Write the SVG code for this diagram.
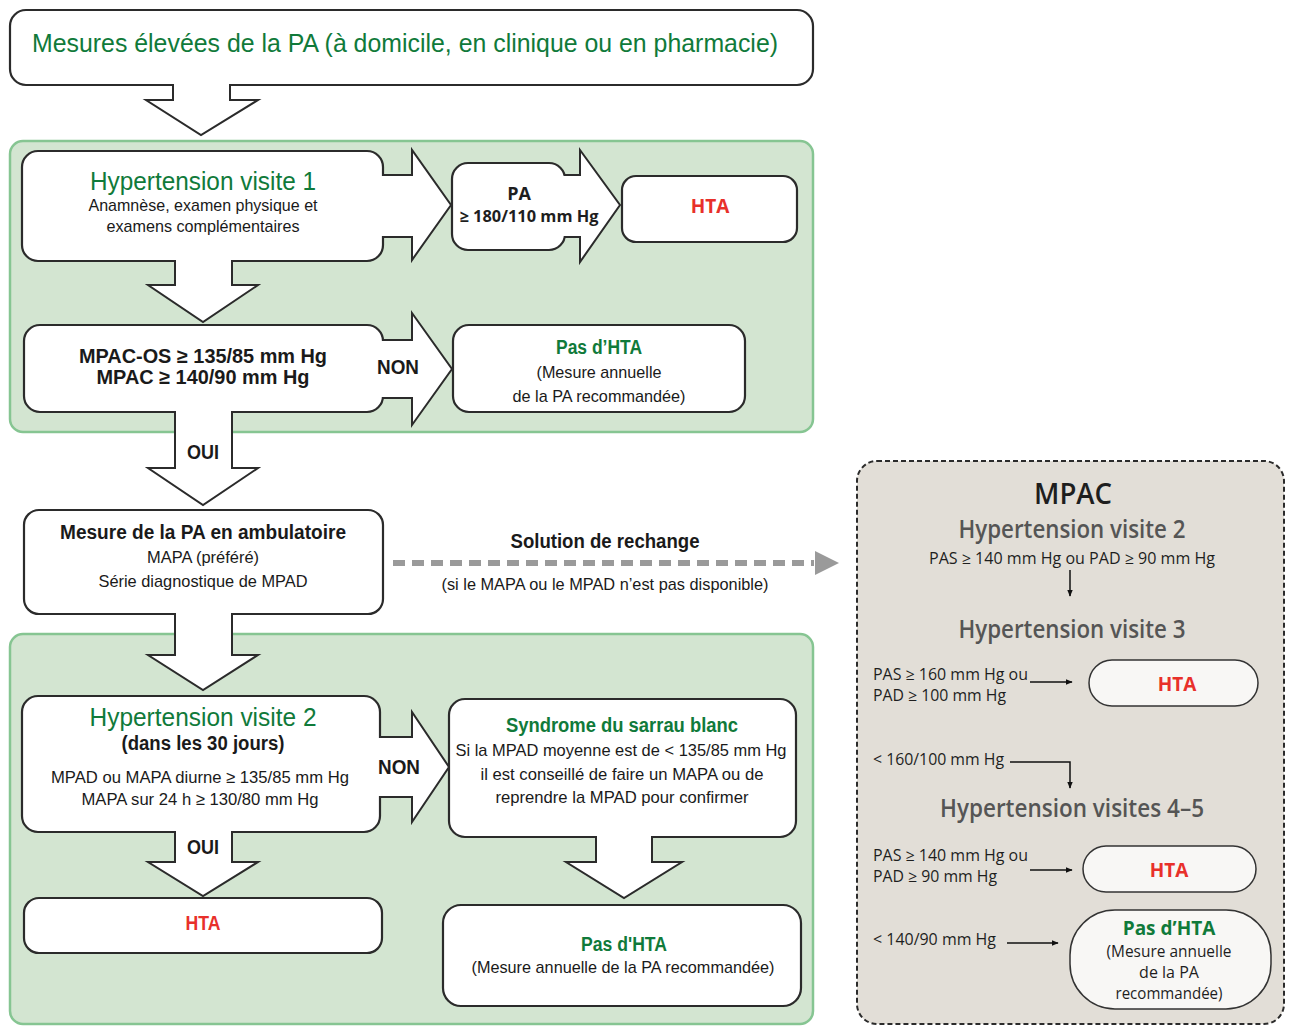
<svg xmlns="http://www.w3.org/2000/svg" width="1293" height="1026" viewBox="0 0 1293 1026">
<defs>
<style>
.bg{fill:#ffffff}
.panel{fill:#d3e5d1;stroke:#86c592;stroke-width:2.5}
.box{fill:#fff;stroke:#2b2b2b;stroke-width:2.2}
.arr{fill:#fff;stroke:#2b2b2b;stroke-width:2;stroke-linejoin:miter}
.cover{fill:#fff;stroke:none}
.t{font-family:"Liberation Sans Narrow","Liberation Sans",Arial,sans-serif;text-anchor:middle;fill:#1a1a1a}
.rp{font-family:"Open Sans","Noto Sans","Liberation Sans",sans-serif;fill:#1e1e1e}
.g{fill:#107a3a}
.r{fill:#e8302a;font-weight:bold}
.b{font-weight:bold}
.h{font-size:26px}
.s{font-size:17px}
.m{font-size:20px}
.gh{fill:#555;font-size:25px;text-anchor:middle;font-weight:600}
.sm{font-size:16px}
.pill{fill:#f8f7f5;stroke:#333;stroke-width:1.5}
.ln{fill:none;stroke:#111;stroke-width:1.5}
</style>
<marker id="ah" viewBox="0 0 10 10" refX="9" refY="5" markerWidth="7" markerHeight="7" orient="auto" markerUnits="userSpaceOnUse">
<path d="M0,1 L10,5 L0,9 Z" fill="#111"/>
</marker>
</defs>
<rect class="bg" x="0" y="0" width="1293" height="1026"/>

<g id="panel1"><rect class="panel" x="10" y="141" width="803" height="291" rx="13"/></g>
<g id="panel2"><rect class="panel" x="10" y="634" width="803" height="390" rx="13"/></g>
<g id="panel-mpac"><rect x="857" y="461" width="427" height="563" rx="20" fill="#e2ded7" stroke="#2b2b2b" stroke-width="2" stroke-dasharray="5 3"/></g>

<g id="connectors">
<path class="arr" d="M173,84 V100 H146 L201,135 L258,100 H230 V84"/>
<path class="arr" d="M175,260 V285 H148 L203,322 L258,285 H232 V260"/>
<path class="arr" d="M175,411 V468 H148 L203,505 L258,468 H232 V411"/>
<path class="arr" d="M175,613 V655 H148 L203,690 L258,655 H232 V613"/>
<path class="arr" d="M175,831 V862 H148 L203,896 L258,862 H232 V831"/>
<path class="arr" d="M596,836 V862 H566 L624,898 L682,862 H652 V836"/>
<path class="arr" d="M382,175 H412 V150 L451,205 L412,260 V237 H382"/>
<path class="arr" d="M564,175 H580 V150 L620,205 L580,262 V237 H564"/>
<path class="arr" d="M382,340 H412 V313 L452,369 L412,425 V398 H382"/>
<path class="arr" d="M379,737 H412 V712 L449,767 L412,822 V797 H379"/>
<line x1="393" y1="563" x2="814" y2="563" stroke="#9a9a9a" stroke-width="6" stroke-dasharray="12 7"/>
<path d="M815,551 L839,563 L815,575 Z" fill="#9a9a9a"/>
<line class="ln" x1="1070" y1="570" x2="1070" y2="596" marker-end="url(#ah)"/>
<line class="ln" x1="1030" y1="682" x2="1072" y2="682" marker-end="url(#ah)"/>
<path class="ln" d="M1010,762 H1070 V788" marker-end="url(#ah)"/>
<line class="ln" x1="1030" y1="870" x2="1072" y2="870" marker-end="url(#ah)"/>
<line class="ln" x1="1007" y1="943" x2="1058" y2="943" marker-end="url(#ah)"/>
</g>

<g id="n-top">
<rect class="box" x="10" y="10" width="803" height="75" rx="16"/>
<rect class="cover" x="174" y="80" width="55" height="8"/>
<text class="t g h" x="405" y="52" textLength="746" lengthAdjust="spacingAndGlyphs">Mesures élevées de la PA (à domicile, en clinique ou en pharmacie)</text>
</g>

<g id="n-visite1">
<rect class="box" x="22" y="151" width="361" height="110" rx="16"/>
<rect class="cover" x="176" y="256" width="55" height="8"/>
<rect class="cover" x="378" y="176" width="8" height="60"/>
<text class="t g h" x="203" y="190" textLength="226" lengthAdjust="spacingAndGlyphs">Hypertension visite 1</text>
<text class="t s" x="203" y="211" textLength="229" lengthAdjust="spacingAndGlyphs">Anamnèse, examen physique et</text>
<text class="t s" x="203" y="232" textLength="193" lengthAdjust="spacingAndGlyphs">examens complémentaires</text>
</g>

<g id="n-pa">
<rect class="box" x="452" y="163" width="113" height="87" rx="16"/>
<rect class="cover" x="560" y="176" width="8" height="60"/>
<text class="rp b" x="519" y="200" font-size="18" text-anchor="middle">PA</text>
<text class="rp b" x="529" y="222" font-size="16" text-anchor="middle" textLength="139" lengthAdjust="spacingAndGlyphs">≥ 180/110 mm Hg</text>
</g>

<g id="n-hta1">
<rect class="box" x="622" y="176" width="175" height="66" rx="14"/>
<text class="rp b" x="710" y="213" font-size="19" text-anchor="middle" style="fill:#e8302a">HTA</text>
</g>

<g id="n-mpac">
<rect class="box" x="24" y="325" width="359" height="87" rx="16"/>
<rect class="cover" x="176" y="407" width="55" height="8"/>
<rect class="cover" x="378" y="341" width="8" height="56"/>
<text class="t b m" x="203" y="363" textLength="248" lengthAdjust="spacingAndGlyphs">MPAC-OS ≥ 135/85 mm Hg</text>
<text class="t b m" x="203" y="384" textLength="213" lengthAdjust="spacingAndGlyphs">MPAC ≥ 140/90 mm Hg</text>
</g>
<g id="l-non1"><text class="t b m" x="398" y="374" textLength="42" lengthAdjust="spacingAndGlyphs">NON</text></g>

<g id="n-pas1">
<rect class="box" x="453" y="325" width="292" height="87" rx="16"/>
<text class="t g b m" x="599" y="354" textLength="86" lengthAdjust="spacingAndGlyphs">Pas d’HTA</text>
<text class="t s" x="599" y="378" textLength="125" lengthAdjust="spacingAndGlyphs">(Mesure annuelle</text>
<text class="t s" x="599" y="402" textLength="173" lengthAdjust="spacingAndGlyphs">de la PA recommandée)</text>
</g>

<g id="l-oui1"><text class="t b m" x="203" y="459" textLength="32" lengthAdjust="spacingAndGlyphs">OUI</text></g>

<g id="n-ambu">
<rect class="box" x="24" y="510" width="359" height="104" rx="15"/>
<rect class="cover" x="176" y="609" width="55" height="8"/>
<text class="t b m" x="203" y="539" textLength="286" lengthAdjust="spacingAndGlyphs">Mesure de la PA en ambulatoire</text>
<text class="t s" x="203" y="563" textLength="112" lengthAdjust="spacingAndGlyphs">MAPA (préféré)</text>
<text class="t s" x="203" y="587" textLength="209" lengthAdjust="spacingAndGlyphs">Série diagnostique de MPAD</text>
</g>

<g id="l-solution">
<text class="t b m" x="605" y="548" textLength="189" lengthAdjust="spacingAndGlyphs">Solution de rechange</text>
<text class="t s" x="605" y="590" textLength="327" lengthAdjust="spacingAndGlyphs">(si le MAPA ou le MPAD n’est pas disponible)</text>
</g>

<g id="n-visite2">
<rect class="box" x="22" y="696" width="358" height="136" rx="16"/>
<rect class="cover" x="176" y="827" width="55" height="8"/>
<rect class="cover" x="375" y="738" width="8" height="58"/>
<text class="t g h" x="203" y="726" textLength="227" lengthAdjust="spacingAndGlyphs">Hypertension visite 2</text>
<text class="t b m" x="203" y="750" textLength="163" lengthAdjust="spacingAndGlyphs">(dans les 30 jours)</text>
<text class="t s" x="200" y="783" textLength="298" lengthAdjust="spacingAndGlyphs">MPAD ou MAPA diurne ≥ 135/85 mm Hg</text>
<text class="t s" x="200" y="805" textLength="237" lengthAdjust="spacingAndGlyphs">MAPA sur 24 h ≥ 130/80 mm Hg</text>
</g>
<g id="l-non2"><text class="t b m" x="399" y="774" textLength="42" lengthAdjust="spacingAndGlyphs">NON</text></g>

<g id="n-syndrome">
<rect class="box" x="449" y="699" width="347" height="138" rx="16"/>
<rect class="cover" x="597" y="832" width="54" height="8"/>
<text class="t g b m" x="622" y="732" textLength="232" lengthAdjust="spacingAndGlyphs">Syndrome du sarrau blanc</text>
<text class="t s" x="621" y="756" textLength="331" lengthAdjust="spacingAndGlyphs">Si la MPAD moyenne est de &lt; 135/85 mm Hg</text>
<text class="t s" x="622" y="780" textLength="283" lengthAdjust="spacingAndGlyphs">il est conseillé de faire un MAPA ou de</text>
<text class="t s" x="622" y="803" textLength="253" lengthAdjust="spacingAndGlyphs">reprendre la MPAD pour confirmer</text>
</g>

<g id="l-oui2"><text class="t b m" x="203" y="854" textLength="32" lengthAdjust="spacingAndGlyphs">OUI</text></g>

<g id="n-hta2">
<rect class="box" x="24" y="898" width="358" height="55" rx="15"/>
<text class="t r m" x="203" y="930" textLength="35" lengthAdjust="spacingAndGlyphs">HTA</text>
</g>

<g id="n-pas2">
<rect class="box" x="443" y="905" width="358" height="101" rx="18" stroke-width="2.8"/>
<text class="t g b m" x="624" y="951" textLength="86" lengthAdjust="spacingAndGlyphs">Pas d'HTA</text>
<text class="t s" x="623" y="973" textLength="303" lengthAdjust="spacingAndGlyphs">(Mesure annuelle de la PA recommandée)</text>
</g>

<g id="n-mpac-panel-text">
<text class="rp" x="1073" y="504" font-size="29" font-weight="600" text-anchor="middle" textLength="78" lengthAdjust="spacingAndGlyphs">MPAC</text>
<text class="rp gh" x="1072" y="538" textLength="227" lengthAdjust="spacingAndGlyphs">Hypertension visite 2</text>
<text class="rp sm" x="1072" y="564" text-anchor="middle" textLength="286" lengthAdjust="spacingAndGlyphs">PAS ≥ 140 mm Hg ou PAD ≥ 90 mm Hg</text>
<text class="rp gh" x="1072" y="638" textLength="227" lengthAdjust="spacingAndGlyphs">Hypertension visite 3</text>
<text class="rp sm" x="873" y="680" textLength="155" lengthAdjust="spacingAndGlyphs">PAS ≥ 160 mm Hg ou</text>
<text class="rp sm" x="873" y="701" textLength="133" lengthAdjust="spacingAndGlyphs">PAD ≥ 100 mm Hg</text>
<text class="rp sm" x="873" y="765" textLength="131" lengthAdjust="spacingAndGlyphs">&lt; 160/100 mm Hg</text>
<text class="rp gh" x="1072" y="817" textLength="264" lengthAdjust="spacingAndGlyphs">Hypertension visites 4–5</text>
<text class="rp sm" x="873" y="861" textLength="155" lengthAdjust="spacingAndGlyphs">PAS ≥ 140 mm Hg ou</text>
<text class="rp sm" x="873" y="882" textLength="124" lengthAdjust="spacingAndGlyphs">PAD ≥ 90 mm Hg</text>
<text class="rp sm" x="873" y="945" textLength="123" lengthAdjust="spacingAndGlyphs">&lt; 140/90 mm Hg</text>
</g>

<g id="n-hta3">
<rect class="pill" x="1089" y="660" width="169" height="46" rx="23"/>
<text class="rp b" x="1177" y="691" font-size="19" text-anchor="middle" style="fill:#e8302a">HTA</text>
</g>
<g id="n-hta45">
<rect class="pill" x="1083" y="846" width="173" height="46" rx="23"/>
<text class="rp b" x="1169" y="877" font-size="19" text-anchor="middle" style="fill:#e8302a">HTA</text>
</g>
<g id="n-pas3">
<rect class="pill" x="1070" y="910" width="201" height="99" rx="45"/>
<text class="rp b" x="1169" y="935" font-size="19" text-anchor="middle" style="fill:#107a3a">Pas d’HTA</text>
<text class="rp sm" x="1169" y="957" text-anchor="middle" textLength="125" lengthAdjust="spacingAndGlyphs">(Mesure annuelle</text>
<text class="rp sm" x="1169" y="978" text-anchor="middle">de la PA</text>
<text class="rp sm" x="1169" y="999" text-anchor="middle" textLength="107" lengthAdjust="spacingAndGlyphs">recommandée)</text>
</g>
</svg>
